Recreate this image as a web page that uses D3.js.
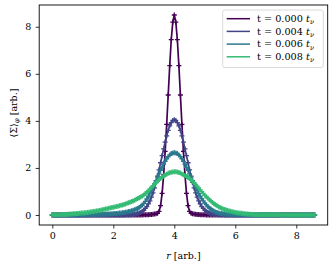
<!DOCTYPE html>
<head>
  <meta charset="utf-8">
  <script src="https://d3js.org/d3.v7.min.js"></script>
  <style>
    body { margin: 0; background: #fff; }
    svg text { font-family: "DejaVu Serif", "Liberation Serif", serif; fill: #000; }
  </style>
</head>

<body>
  <script>
    // radius grid, step 0.05
    var rValues = [
      0, 0.05, 0.1, 0.15, 0.2, 0.25, 0.3, 0.35, 0.4, 0.45, 0.5, 0.55, 0.6, 0.65, 0.7, 0.75, 0.8, 0.85, 0.9, 0.95,
      1, 1.05, 1.1, 1.15, 1.2, 1.25, 1.3, 1.35, 1.4, 1.45, 1.5, 1.55, 1.6, 1.65, 1.7, 1.75, 1.8, 1.85, 1.9, 1.95,
      2, 2.05, 2.1, 2.15, 2.2, 2.25, 2.3, 2.35, 2.4, 2.45, 2.5, 2.55, 2.6, 2.65, 2.7, 2.75, 2.8, 2.85, 2.9, 2.95,
      3, 3.05, 3.1, 3.15, 3.2, 3.25, 3.3, 3.35, 3.4, 3.45, 3.5, 3.55, 3.6, 3.65, 3.7, 3.75, 3.8, 3.85, 3.9, 3.95,
      4, 4.05, 4.1, 4.15, 4.2, 4.25, 4.3, 4.35, 4.4, 4.45, 4.5, 4.55, 4.6, 4.65, 4.7, 4.75, 4.8, 4.85, 4.9, 4.95,
      5, 5.05, 5.1, 5.15, 5.2, 5.25, 5.3, 5.35, 5.4, 5.45, 5.5, 5.55, 5.6, 5.65, 5.7, 5.75, 5.8, 5.85, 5.9, 5.95,
      6, 6.05, 6.1, 6.15, 6.2, 6.25, 6.3, 6.35, 6.4, 6.45, 6.5, 6.55, 6.6, 6.65, 6.7, 6.75, 6.8, 6.85, 6.9, 6.95,
      7, 7.05, 7.1, 7.15, 7.2, 7.25, 7.3, 7.35, 7.4, 7.45, 7.5, 7.55, 7.6, 7.65, 7.7, 7.75, 7.8, 7.85, 7.9, 7.95,
      8, 8.05, 8.1, 8.15, 8.2, 8.25, 8.3, 8.35, 8.4, 8.45, 8.5, 8.55, 8.6
    ];

    // <Sigma>_phi for each time, same order as rValues
    var sigmaT0 = [
      0, 0, 0, 0, 0, 0, 0, 0, 0, 0, 0, 0, 0, 0, 0, 0, 0, 0, 0, 0,
      0, 0, 0, 0, 0, 0, 0, 0, 0, 0, 0, 0, 0, 0, 0, 0, 0, 0, 0, 0,
      0, 0, 0, 0, 0, 0, 0, 0, 0, 0, 0, 0, 0, 0, 0, 0, 0, 0, 0, 0.005,
      0.01, 0.01, 0.01, 0.015, 0.02, 0.02, 0.03, 0.04, 0.05, 0.07, 0.15, 0.4, 0.92, 1.7, 2.7, 3.85, 5.1, 6.35, 7.45, 8.2,
      8.5, 8.2, 7.45, 6.35, 5.1, 3.85, 2.7, 1.7, 0.92, 0.4, 0.15, 0.07, 0.05, 0.04, 0.03, 0.02, 0.02, 0.015, 0.01, 0.01,
      0.01, 0.005, 0, 0, 0, 0, 0, 0, 0, 0, 0, 0, 0, 0, 0, 0, 0, 0, 0, 0,
      0, 0, 0, 0, 0, 0, 0, 0, 0, 0, 0, 0, 0, 0, 0, 0, 0, 0, 0, 0,
      0, 0, 0, 0, 0, 0, 0, 0, 0, 0, 0, 0, 0, 0, 0, 0, 0, 0, 0, 0,
      0, 0, 0, 0, 0, 0, 0, 0, 0, 0, 0, 0, 0
    ];
    var sigmaT4 = [
      0, 0, 0, 0, 0, 0, 0, 0, 0, 0, 0, 0, 0, 0, 0, 0, 0, 0, 0, 0,
      0, 0, 0, 0, 0, 0, 0, 0, 0, 0, 0, 0, 0, 0, 0, 0, 0, 0, 0, 0,
      0, 0, 0, 0, 0.005, 0.005, 0.005, 0.005, 0.01, 0.01, 0.01, 0.015, 0.02, 0.025, 0.035, 0.045, 0.06, 0.08, 0.11, 0.15,
      0.21, 0.28, 0.36, 0.47, 0.6, 0.76, 0.94, 1.15, 1.39, 1.65, 1.92, 2.22, 2.52, 2.81, 3.1, 3.36, 3.6, 3.79, 3.93, 4.02,
      4.05, 4.02, 3.93, 3.79, 3.6, 3.36, 3.1, 2.81, 2.52, 2.22, 1.92, 1.65, 1.39, 1.15, 0.94, 0.76, 0.6, 0.47, 0.36, 0.28,
      0.21, 0.15, 0.11, 0.08, 0.06, 0.045, 0.035, 0.025, 0.02, 0.015, 0.01, 0.01, 0.01, 0.005, 0.005, 0.005, 0.005, 0, 0, 0,
      0, 0, 0, 0, 0, 0, 0, 0, 0, 0, 0, 0, 0, 0, 0, 0, 0, 0, 0, 0,
      0, 0, 0, 0, 0, 0, 0, 0, 0, 0, 0, 0, 0, 0, 0, 0, 0, 0, 0, 0,
      0, 0, 0, 0, 0, 0, 0, 0, 0, 0, 0, 0, 0
    ];
    var sigmaT6 = [
      0, 0, 0, 0, 0, 0, 0, 0, 0, 0, 0.005, 0.005, 0.005, 0.005, 0.005, 0.005, 0.005, 0.005, 0.005, 0.005,
      0.01, 0.01, 0.012, 0.013, 0.015, 0.016, 0.018, 0.019, 0.02, 0.022, 0.025, 0.027, 0.03, 0.032, 0.035, 0.037, 0.04, 0.042, 0.045, 0.048,
      0.05, 0.06, 0.065, 0.07, 0.08, 0.09, 0.1, 0.11, 0.12, 0.13, 0.15, 0.16, 0.18, 0.2, 0.22, 0.25, 0.28, 0.32, 0.37, 0.42,
      0.49, 0.58, 0.68, 0.8, 0.92, 1.05, 1.18, 1.32, 1.46, 1.61, 1.75, 1.9, 2.03, 2.16, 2.28, 2.39, 2.48, 2.55, 2.61, 2.64,
      2.65, 2.64, 2.61, 2.55, 2.48, 2.39, 2.28, 2.16, 2.03, 1.9, 1.75, 1.61, 1.46, 1.32, 1.18, 1.05, 0.92, 0.8, 0.69, 0.6,
      0.51, 0.43, 0.36, 0.3, 0.25, 0.2, 0.17, 0.13, 0.11, 0.09, 0.075, 0.06, 0.05, 0.04, 0.035, 0.03, 0.025, 0.02, 0.02, 0.015,
      0.015, 0.01, 0.01, 0.01, 0.01, 0.01, 0.01, 0.01, 0.01, 0.01, 0.005, 0.005, 0.005, 0.005, 0.005, 0.005, 0.005, 0.005, 0.005, 0.005,
      0, 0, 0, 0, 0, 0, 0, 0, 0, 0, 0, 0, 0, 0, 0, 0, 0, 0, 0, 0,
      0, 0, 0, 0, 0, 0, 0, 0, 0, 0, 0, 0, 0
    ];
    var sigmaT8 = [
      0.01, 0.01, 0.01, 0.01, 0.01, 0.015, 0.02, 0.02, 0.02, 0.025, 0.03, 0.035, 0.04, 0.045, 0.05, 0.055, 0.06, 0.065, 0.07, 0.08,
      0.09, 0.095, 0.1, 0.11, 0.12, 0.13, 0.14, 0.15, 0.16, 0.17, 0.18, 0.195, 0.21, 0.225, 0.24, 0.255, 0.27, 0.285, 0.3, 0.315,
      0.33, 0.345, 0.36, 0.375, 0.39, 0.41, 0.43, 0.45, 0.47, 0.495, 0.52, 0.545, 0.57, 0.6, 0.63, 0.665, 0.7, 0.735, 0.77, 0.81,
      0.85, 0.91, 0.97, 1.035, 1.1, 1.165, 1.23, 1.3, 1.37, 1.435, 1.5, 1.555, 1.61, 1.655, 1.7, 1.735, 1.77, 1.795, 1.82, 1.83,
      1.84, 1.835, 1.83, 1.805, 1.78, 1.745, 1.71, 1.675, 1.64, 1.595, 1.55, 1.49, 1.43, 1.365, 1.3, 1.225, 1.15, 1.07, 0.99, 0.915,
      0.84, 0.775, 0.71, 0.65, 0.59, 0.535, 0.48, 0.435, 0.39, 0.355, 0.32, 0.29, 0.26, 0.235, 0.21, 0.19, 0.17, 0.155, 0.14, 0.125,
      0.11, 0.1, 0.09, 0.08, 0.07, 0.06, 0.05, 0.045, 0.04, 0.035, 0.03, 0.025, 0.02, 0.02, 0.02, 0.015, 0.01, 0.01, 0.01, 0.01,
      0.01, 0.01, 0.01, 0.01, 0.01, 0.01, 0.01, 0.01, 0.01, 0.01, 0.005, 0.005, 0.005, 0.005, 0.005, 0.005, 0.005, 0.005, 0.005, 0.005,
      0.005, 0.005, 0.005, 0.005, 0.005, 0.005, 0.005, 0.005, 0.005, 0.005, 0.005, 0.005, 0.005
    ];

    var timeLabels = ['0.000', '0.004', '0.006', '0.008'];
    var seriesColors = ['#440154', '#414487', '#2a788e', '#33bb74'];
    var xTickValues = [0, 2, 4, 6, 8];
    var yTickValues = [0, 2, 4, 6, 8];

    var allSeries = [sigmaT0, sigmaT4, sigmaT6, sigmaT8];

    var outerWidth = 335,
      outerHeight = 268;
    var margin = { top: 5, left: 39.2, right: 7.3, bottom: 43 };
    var width = outerWidth - margin.left - margin.right,
      height = outerHeight - margin.top - margin.bottom;

    // matplotlib style 5% padding around the data
    var rExt = d3.extent(rValues);
    var sExt = d3.extent(d3.merge(allSeries));
    var rPad = (rExt[1] - rExt[0]) * 0.05,
      sPad = (sExt[1] - sExt[0]) * 0.05;

    var xScale = d3.scaleLinear()
      .domain([rExt[0] - rPad, rExt[1] + rPad])
      .range([0, width]);
    var yScale = d3.scaleLinear()
      .domain([sExt[0] - sPad, sExt[1] + sPad])
      .range([height, 0]);

    var svg = d3.select('body').append('svg')
      .attr('width', outerWidth)
      .attr('height', outerHeight);
    var g = svg.append('g')
      .attr('transform', 'translate(' + margin.left + ',' + margin.top + ')');

    var line = d3.line()
      .x(function(d) { return xScale(d[0]); })
      .y(function(d) { return yScale(d[1]); });

    // each series: line then '+' markers on every sample
    allSeries.forEach(function(series, i) {
      var pts = rValues.map(function(r, j) { return [r, series[j]]; });
      g.append('path')
        .datum(pts)
        .attr('d', line)
        .attr('fill', 'none')
        .attr('stroke', seriesColors[i])
        .attr('stroke-width', 1.7)
        .attr('stroke-linejoin', 'round');
      g.append('path')
        .attr('d', pts.map(function(p) {
          var px = xScale(p[0]), py = yScale(p[1]);
          return 'M' + (px - 2.5) + ',' + py + 'h5M' + px + ',' + (py - 2.5) + 'v5';
        }).join(''))
        .attr('fill', 'none')
        .attr('stroke', seriesColors[i])
        .attr('stroke-width', 1.3);
    });

    // axes
    var xAxis = g.append('g')
      .attr('transform', 'translate(0,' + height + ')')
      .call(d3.axisBottom(xScale).tickValues(xTickValues).tickSize(3.5).tickPadding(3.5));
    var yAxis = g.append('g')
      .call(d3.axisLeft(yScale).tickValues(yTickValues).tickSize(3.5).tickPadding(4.5));
    [xAxis, yAxis].forEach(function(ax) {
      ax.attr('font-family', null);
      ax.select('.domain').remove();
      ax.selectAll('line').attr('stroke', '#000').attr('stroke-width', 0.8);
      ax.selectAll('text').style('font-size', '9.5px');
    });

    g.append('rect')
      .attr('width', width)
      .attr('height', height)
      .attr('fill', 'none')
      .attr('stroke', '#000')
      .attr('stroke-width', 0.9);

    // axis labels
    var xl = svg.append('text')
      .attr('x', margin.left + width / 2)
      .attr('y', 258.5)
      .attr('text-anchor', 'middle')
      .style('font-size', '9.5px');
    xl.append('tspan').style('font-style', 'italic').text('r');
    xl.append('tspan').text(' [arb.]');

    var yl = svg.append('text')
      .attr('transform', 'translate(16.5,' + 113 + ') rotate(-90)')
      .attr('text-anchor', 'middle')
      .style('font-size', '9.5px');
    yl.append('tspan').text('\u27e8\u03a3\u27e9');
    yl.append('tspan').attr('dy', 2.5).style('font-size', '7px').style('font-style', 'italic').text('\u03c6');
    yl.append('tspan').attr('dy', -2.5).text(' [arb.]');

    // legend
    var legend = svg.append('g').attr('transform', 'translate(222.7,10)');
    legend.append('rect')
      .attr('width', 100.6)
      .attr('height', 57.5)
      .attr('rx', 2)
      .attr('fill', '#fff')
      .attr('fill-opacity', 0.8)
      .attr('stroke', '#d0d0d0')
      .attr('stroke-width', 0.8);
    timeLabels.forEach(function(lab, i) {
      var yy = 8.7 + i * 12.7;
      legend.append('line')
        .attr('x1', 4).attr('x2', 27.3)
        .attr('y1', yy).attr('y2', yy)
        .attr('stroke', seriesColors[i])
        .attr('stroke-width', 1.5);
      var t = legend.append('text')
        .attr('x', 34.3)
        .attr('y', yy + 3.3)
        .style('font-size', '9.7px');
      t.append('tspan').text('t = ' + lab + ' ');
      t.append('tspan').style('font-style', 'italic').text('t');
      t.append('tspan').attr('dy', 2.2).style('font-size', '6.7px').style('font-style', 'italic').text('\u03bd');
    });
  </script>
</body>
